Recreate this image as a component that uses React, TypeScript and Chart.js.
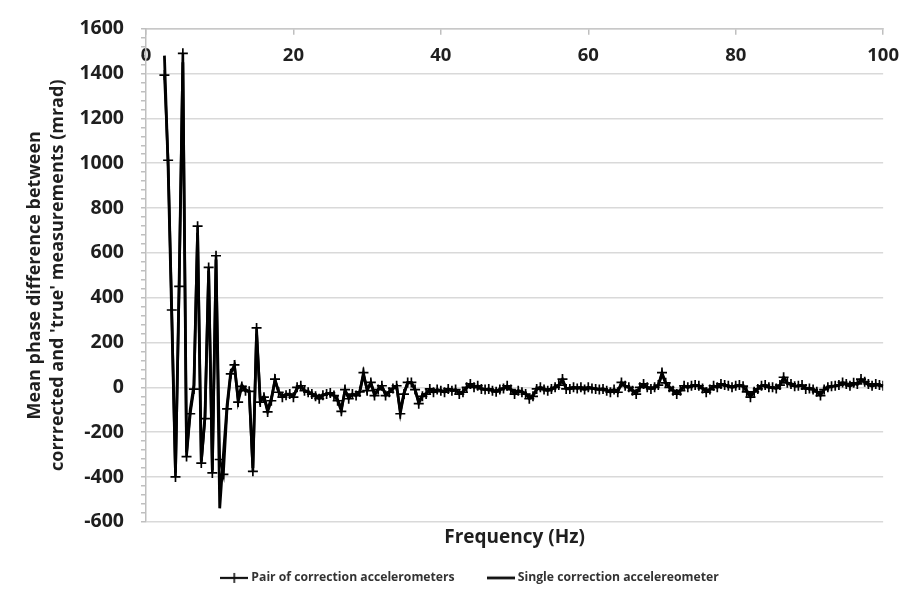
import React, { useEffect, useRef } from "react";
import { Chart, registerables } from "chart.js";

Chart.register(...registerables);

// Frequency grid (Hz): first bin and bin width
const FREQ_START = 2.5;
const FREQ_STEP = 0.5;

const X_TICKS = [0, 20, 40, 60, 80, 100];

// Pair of correction accelerometers (mrad)
const PAIR = [
  1393, 1013, 345, -400, 450, 1490, -309, -118, -8, 719,
  -338, -140, 535, -382, 587, -322, -388, -96, 60, 100,
  -66, 4, -15, -18, -375, 265, -66, -44, -110, -60,
  37, -22, -44, -35, -30, -44, 0, 7, -15, -22,
  -30, -40, -51, -35, -30, -25, -37, -60, -107, -10,
  -51, -30, -37, -20, 66, -15, 22, -37, -10, 7,
  -37, -22, -5, 7, -118, -30, 22, 22, -10, -73,
  -40, -30, -7, -22, -10, -15, -22, -7, -15, -10,
  -30, -22, 0, 15, 0, 7, -7, -10, -7, -15,
  -20, -10, -5, 7, -10, -30, -15, -22, -30, -51,
  -40, -7, 0, -10, -15, -7, 0, 10, 37, -7,
  -7, 0, -5, 0, -10, 0, -5, -7, -10, -7,
  -15, -22, -10, -22, 22, 7, 0, -15, -30, 0,
  15, 0, -7, 0, 10, 66, 20, 0, -15, -30,
  -15, 7, 0, 7, 10, 7, -5, -22, -10, 7,
  0, 15, 10, 7, 0, 7, 10, 5, -20, -44,
  -20, -7, 7, 10, 0, 0, -5, 10, 45, 20,
  15, 5, 7, 10, -7, -5, -10, -20, -37, -10,
  0, 5, 7, 10, 22, 15, 7, 20, 15, 37,
  25, 15, 7, 15, 10, 7,
];

// Single correction accelereometer (mrad)
const SINGLE = [
  1480, 980, 300, -380, 480, 1450, -290, -100, 10, 690,
  -330, -130, 520, -370, 570, -540, -300, -80, 70, 95,
  -50, 10, -10, -20, -360, 240, -60, -40, -100, -50,
  30, -20, -40, -30, -30, -40, -5, 5, -15, -20,
  -30, -35, -45, -35, -30, -25, -35, -55, -95, -15,
  -45, -30, -35, -20, 55, -10, 20, -30, -10, 5,
  -30, -20, -5, 5, -105, -25, 20, 20, -10, -65,
  -35, -28, -10, -20, -12, -15, -20, -8, -15, -12,
  -25, -20, -2, 12, 0, 5, -5, -10, -8, -12,
  -18, -10, -5, 5, -8, -25, -15, -20, -28, -45,
  -35, -10, -2, -8, -12, -8, 0, 10, 32, -5,
  -5, 0, -4, 0, -8, 0, -5, -6, -8, -6,
  -12, -20, -10, -20, 18, 5, 0, -12, -25, 0,
  12, 0, -5, 0, 8, 58, 18, 0, -12, -25,
  -12, 5, 0, 5, 8, 5, -4, -18, -8, 5,
  0, 12, 8, 5, 0, 5, 8, 4, -15, -38,
  -18, -5, 5, 8, 0, 0, -4, 8, 40, 18,
  12, 5, 5, 8, -5, -4, -8, -18, -32, -8,
  0, 4, 5, 8, 18, 12, 5, 18, 12, 32,
  22, 12, 5, 12, 8, 5,
];

const SERIES_NAMES = ["Pair of correction accelerometers", "Single correction accelereometer"];
const X_TITLE = "Frequency (Hz)";
const Y_TITLE = ["Mean phase difference between", "corrrected and 'true' measurements (mrad)"];

const FONT = "'Open Sans', Lato, 'Liberation Sans', sans-serif";
const TEXT = "#1f1f1f";

function toPoints(vals: number[]) {
  return vals.map((v, i) => ({ x: FREQ_START + i * FREQ_STEP, y: v }));
}

function makeIcon(withCross: boolean): HTMLCanvasElement {
  const c = document.createElement("canvas");
  c.width = 28;
  c.height = 12;
  const g = c.getContext("2d")!;
  g.strokeStyle = "#111";
  g.lineWidth = withCross ? 2.2 : 2.8;
  g.beginPath();
  g.moveTo(0, 6);
  g.lineTo(28, 6);
  g.stroke();
  if (withCross) {
    g.lineWidth = 1.6;
    g.beginPath();
    g.moveTo(14, 1);
    g.lineTo(14, 11);
    g.stroke();
  }
  return c;
}

export default function App() {
  const ref = useRef<HTMLCanvasElement | null>(null);

  useEffect(() => {
    if (!ref.current) return;
    const icons = [makeIcon(true), makeIcon(false)];
    const chart = new Chart(ref.current, {
      type: "line",
      data: {
        datasets: [
          {
            label: SERIES_NAMES[0],
            data: toPoints(PAIR),
            borderColor: "#000",
            borderWidth: 2.6,
            pointStyle: "cross",
            pointRadius: 5,
            pointBorderWidth: 1.7,
            pointBorderColor: "#000",
            tension: 0,
          },
          {
            label: SERIES_NAMES[1],
            data: toPoints(SINGLE),
            borderColor: "#000",
            borderWidth: 2.8,
            pointRadius: 0,
            tension: 0,
          },
        ],
      },
      options: {
        responsive: false,
        animation: false,
        events: [],
        layout: { padding: { left: 44, right: 17, top: 22.5, bottom: 3 } },
        plugins: {
          tooltip: { enabled: false },
          legend: {
            position: "bottom",
            labels: {
              usePointStyle: true,
              pointStyleWidth: 22,
              padding: 35,
              color: "#333",
              font: { family: FONT, size: 12.2, weight: "bold" },
              generateLabels: (ch: any) =>
                ch.data.datasets.map((ds: any, i: number) => ({
                  text: ds.label,
                  pointStyle: icons[i],
                  fillStyle: "transparent",
                  strokeStyle: "transparent",
                  lineWidth: 0,
                  hidden: false,
                  datasetIndex: i,
                  fontColor: "#333",
                })),
            },
          },
        },
        scales: {
          x: {
            type: "linear",
            position: "bottom",
            min: 0,
            max: 100,
            ticks: { display: false },
            grid: { display: false },
            border: { display: false },
            title: {
              display: true,
              text: X_TITLE,
              color: TEXT,
              font: { family: FONT, size: 19, weight: "bold" },
              padding: { top: 0, bottom: -12.5 },
            },
            afterFit: (s: any) => {
              s.height = 15;
            },
          },
          x2: {
            type: "linear",
            position: "top",
            min: 0,
            max: 100,
            afterBuildTicks: (s: any) => {
              s.ticks = X_TICKS.map((v) => ({ value: v }));
            },
            ticks: {
              mirror: true,
              padding: 16,
              maxRotation: 0,
              autoSkip: false,
              color: TEXT,
              font: { family: FONT, size: 18.5, weight: "bold" },
            },
            grid: {
              drawOnChartArea: false,
              drawTicks: true,
              tickLength: -6,
              color: "#bfbfbf",
              lineWidth: 1.5,
            },
            border: { display: true, color: "#c8c8c8", width: 1.5 },
            afterFit: (s: any) => {
              s.height = 0;
            },
          },
          y: {
            min: -600,
            max: 1600,
            ticks: {
              stepSize: 40,
              autoSkip: false,
              padding: 17,
              color: TEXT,
              font: { family: FONT, size: 19.5, weight: "bold" },
              callback: (v: any) => {
                const r = Math.round(Number(v));
                return r % 200 === 0 ? String(r) : "";
              },
            },
            grid: {
              color: (ctx: any) => {
                const r = Math.round(ctx.tick ? ctx.tick.value : 0);
                return r % 200 === 0 ? "#d9d9d9" : "rgba(0,0,0,0)";
              },
              tickColor: "#bfbfbf",
              tickLength: 5,
              lineWidth: 1.5,
            },
            border: { display: true, color: "#bfbfbf", width: 1.5 },
            title: {
              display: true,
              text: Y_TITLE,
              color: TEXT,
              font: { family: FONT, size: 18, weight: "bold", lineHeight: 1.28 },
              padding: { top: -20.5, bottom: 0 },
            },
            afterFit: (s: any) => {
              s.width = 102;
            },
          },
        },
      },
    });
    return () => chart.destroy();
  }, []);

  return (
    <div style={{ position: "fixed", left: 0, top: 0, width: 915, height: 597, background: "#fff" }}>
      <canvas ref={ref} width={915} height={597} style={{ display: "block" }} />
    </div>
  );
}
